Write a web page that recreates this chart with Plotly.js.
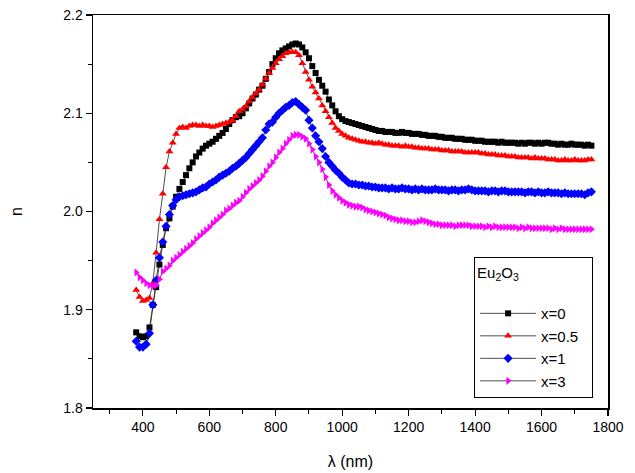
<!DOCTYPE html>
<html>
<head>
<meta charset="utf-8">
<script src="https://cdn.plot.ly/plotly-3.0.1.min.js"></script>
<style>html,body{margin:0;padding:0;background:#fff;}#chart{width:635px;height:473px;}</style>
</head>
<body>
<div id="chart"></div>
<script>
const wavelength = [380,390,400,410,420,430,440,450,460,470,480,490,500,510,520,530,540,550,560,570,580,590,600,610,620,630,640,650,660,670,680,690,700,710,720,730,740,750,760,770,780,790,800,810,820,830,840,850,860,870,880,890,900,910,920,930,940,950,960,970,980,990,1000,1010,1020,1030,1040,1050,1060,1070,1080,1090,1100,1110,1120,1130,1140,1150,1160,1170,1180,1190,1200,1210,1220,1230,1240,1250,1260,1270,1280,1290,1300,1310,1320,1330,1340,1350,1360,1370,1380,1390,1400,1410,1420,1430,1440,1450,1460,1470,1480,1490,1500,1510,1520,1530,1540,1550,1560,1570,1580,1590,1600,1610,1620,1630,1640,1650,1660,1670,1680,1690,1700,1710,1720,1730,1740,1750];

const n_x0 = [1.877,1.873,1.872,1.873,1.882,1.905,1.923,1.946,1.966,1.983,1.993,2.005,2.015,2.023,2.030,2.037,2.044,2.050,2.056,2.060,2.064,2.067,2.069,2.071,2.074,2.077,2.080,2.084,2.089,2.093,2.096,2.097,2.100,2.105,2.110,2.115,2.119,2.124,2.128,2.135,2.142,2.150,2.156,2.161,2.164,2.166,2.168,2.170,2.171,2.170,2.167,2.162,2.156,2.148,2.141,2.134,2.128,2.122,2.114,2.108,2.102,2.097,2.094,2.092,2.091,2.090,2.089,2.088,2.087,2.086,2.085,2.084,2.083,2.082,2.082,2.081,2.081,2.081,2.080,2.080,2.081,2.080,2.080,2.079,2.079,2.079,2.078,2.078,2.077,2.077,2.077,2.076,2.076,2.075,2.075,2.075,2.074,2.074,2.074,2.073,2.073,2.073,2.072,2.072,2.072,2.071,2.071,2.071,2.071,2.070,2.071,2.070,2.070,2.070,2.070,2.069,2.070,2.069,2.070,2.070,2.069,2.070,2.069,2.070,2.070,2.069,2.069,2.068,2.069,2.068,2.068,2.069,2.068,2.068,2.068,2.067,2.068,2.067];

const n_x05 = [1.920,1.913,1.909,1.910,1.912,1.927,1.958,1.992,2.018,2.045,2.061,2.070,2.079,2.085,2.086,2.085,2.087,2.088,2.088,2.087,2.088,2.087,2.087,2.086,2.087,2.088,2.089,2.090,2.091,2.093,2.097,2.102,2.104,2.107,2.112,2.116,2.120,2.124,2.129,2.135,2.141,2.146,2.151,2.155,2.158,2.161,2.162,2.162,2.162,2.159,2.151,2.142,2.134,2.127,2.121,2.115,2.108,2.102,2.096,2.090,2.085,2.082,2.079,2.077,2.075,2.074,2.073,2.072,2.071,2.071,2.070,2.070,2.069,2.070,2.069,2.068,2.068,2.067,2.067,2.067,2.066,2.067,2.066,2.066,2.065,2.065,2.064,2.064,2.064,2.063,2.063,2.063,2.062,2.062,2.062,2.061,2.061,2.061,2.061,2.060,2.060,2.060,2.060,2.060,2.059,2.059,2.058,2.058,2.058,2.057,2.057,2.057,2.056,2.056,2.056,2.055,2.055,2.055,2.055,2.054,2.055,2.054,2.054,2.054,2.053,2.053,2.053,2.052,2.052,2.053,2.052,2.052,2.053,2.052,2.052,2.052,2.053,2.053];

const n_x1 = [1.868,1.862,1.862,1.865,1.876,1.905,1.930,1.953,1.969,1.985,1.997,2.006,2.012,2.015,2.016,2.017,2.018,2.019,2.020,2.022,2.024,2.025,2.028,2.030,2.032,2.035,2.037,2.039,2.041,2.044,2.046,2.049,2.052,2.055,2.059,2.063,2.067,2.071,2.075,2.083,2.089,2.091,2.096,2.100,2.103,2.106,2.108,2.111,2.112,2.109,2.106,2.103,2.093,2.085,2.077,2.071,2.064,2.056,2.050,2.046,2.042,2.039,2.035,2.032,2.029,2.028,2.028,2.027,2.027,2.026,2.026,2.025,2.025,2.024,2.024,2.024,2.023,2.024,2.023,2.023,2.024,2.023,2.023,2.022,2.023,2.022,2.023,2.022,2.022,2.022,2.023,2.022,2.022,2.022,2.021,2.022,2.022,2.021,2.022,2.022,2.023,2.022,2.021,2.021,2.021,2.021,2.020,2.021,2.021,2.020,2.021,2.021,2.020,2.020,2.020,2.020,2.020,2.019,2.020,2.020,2.019,2.020,2.019,2.019,2.020,2.019,2.019,2.019,2.018,2.019,2.018,2.018,2.018,2.018,2.018,2.017,2.019,2.020];

const n_x3 = [1.938,1.933,1.930,1.927,1.925,1.924,1.925,1.931,1.939,1.942,1.945,1.950,1.953,1.956,1.959,1.962,1.965,1.968,1.972,1.975,1.978,1.981,1.984,1.988,1.991,1.994,1.997,2.001,2.003,2.006,2.009,2.011,2.015,2.019,2.023,2.026,2.029,2.032,2.036,2.041,2.046,2.050,2.055,2.060,2.064,2.069,2.073,2.077,2.078,2.078,2.076,2.074,2.069,2.063,2.056,2.050,2.043,2.035,2.027,2.021,2.017,2.014,2.011,2.009,2.007,2.006,2.005,2.005,2.004,2.002,2.001,2.000,1.999,1.998,1.997,1.996,1.994,1.993,1.992,1.991,1.991,1.990,1.990,1.989,1.989,1.990,1.991,1.990,1.989,1.988,1.987,1.987,1.986,1.986,1.986,1.986,1.985,1.986,1.986,1.986,1.986,1.985,1.985,1.985,1.985,1.984,1.985,1.984,1.985,1.984,1.984,1.984,1.984,1.984,1.984,1.983,1.984,1.983,1.984,1.983,1.983,1.983,1.983,1.983,1.983,1.982,1.983,1.982,1.983,1.982,1.982,1.982,1.982,1.982,1.982,1.982,1.982,1.982];

const seriesNames = ['x=0','x=0.5&nbsp;&nbsp;','x=1','x=3'];
const seriesValues = [n_x0, n_x05, n_x1, n_x3];
const seriesColors = ['#000000','#ff0000','#0000ff','#ff00ff'];
const seriesSymbols = ['square','triangle-up','diamond','triangle-right'];
const seriesSizes = [6,7,7,7];

const traces = seriesNames.map((name,i)=>({
  x: wavelength, y: seriesValues[i], name: name,
  type:'scatter', mode:'lines+markers',
  line:{color:'#222', width:0.8},
  marker:{symbol:seriesSymbols[i], color:seriesColors[i], size:seriesSizes[i], line:{width:0}}
}));

const font = {family:'Liberation Sans, Arial, sans-serif', color:'#000'};
const layout = {
  width:635, height:473,
  margin:{l:93, r:27, t:15, b:65},
  paper_bgcolor:'#fff', plot_bgcolor:'#fff',
  font:Object.assign({size:14}, font),
  showlegend:true,
  legend:{
    x:0.74, y:0.384, xanchor:'left', yanchor:'top',
    bordercolor:'#000', borderwidth:1, bgcolor:'#fff',
    font:Object.assign({size:15}, font),
    title:{text:'Eu<sub>2</sub>O<sub>3</sub><br>&nbsp;', font:Object.assign({size:15}, font)},
    tracegroupgap:0, itemwidth:56
  },
  xaxis:{
    range:[250,1800], tick0:0, dtick:200,
    showgrid:false, zeroline:false,
    showline:true, linecolor:'#000', linewidth:1.5, mirror:true,
    ticks:'outside', ticklen:6, tickwidth:1.2, tickcolor:'#000',
    minor:{dtick:100, ticks:'outside', ticklen:4, tickwidth:1, tickcolor:'#000', showgrid:false},
    tickfont:Object.assign({size:14}, font),
    title:{text:'λ (nm)', font:Object.assign({size:16}, font), standoff:21}
  },
  yaxis:{
    range:[1.8,2.2], tick0:1.8, dtick:0.1, tickformat:'.1f',
    showgrid:false, zeroline:false,
    showline:true, linecolor:'#000', linewidth:1.5, mirror:true,
    ticks:'outside', ticklen:6, tickwidth:1.2, tickcolor:'#000',
    minor:{dtick:0.05, ticks:'outside', ticklen:4, tickwidth:1, tickcolor:'#000', showgrid:false},
    tickfont:Object.assign({size:14}, font),
    title:{text:'n', font:Object.assign({size:16}, font), standoff:36}
  }
};
Plotly.newPlot('chart', traces, layout, {displayModeBar:false, staticPlot:true});
</script>
</body>
</html>
